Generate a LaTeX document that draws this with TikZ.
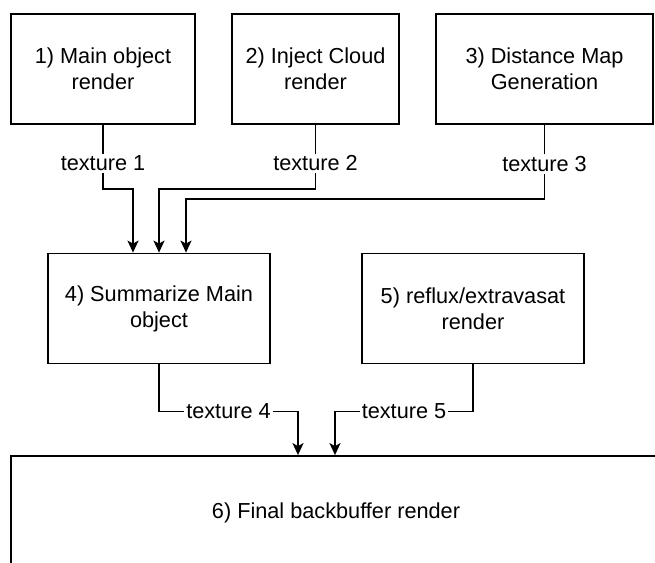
\documentclass[tikz,border=0pt]{standalone}
\usepackage{fontspec}
\setmainfont{Liberation Sans}
\usepackage{tikz}
\usetikzlibrary{arrows.meta,calc}
\tikzstyle{stage} = [rectangle, draw=black, line width=0.9pt, align=center, minimum height=55pt, font=\fontsize{10.85}{13}\selectfont]
\tikzstyle{tex} = [fill=white, inner sep=1pt, font=\fontsize{10.85}{13}\selectfont]
\tikzstyle{flow} = [draw=black, line width=0.9pt, -{Stealth[length=6pt,width=5.5pt,inset=1.5pt]}]

\begin{document}
\begin{tikzpicture}[x=0.5pt,y=-0.5pt]

  \clip (0,0) rectangle (655,563);

  % render passes
  \node[stage, minimum width=92pt]  (main)    at (103,69)    {1) Main object\\render};
  \node[stage, minimum width=83.5pt] (cloud)  at (315.5,69)  {2) Inject Cloud\\render};
  \node[stage, minimum width=108.5pt] (dist)  at (544.5,69)  {3) Distance Map\\Generation};
  \node[stage, minimum width=111pt] (summ)    at (159,308.5) {4) Summarize Main\\object};
  \node[stage, minimum width=111pt] (reflux)  at (473,308.5) {5) reflux/extravasat\\render};
  \node[stage, minimum width=325pt, minimum height=57pt] (final) at (336,513) {6) Final backbuffer render};

  % textures
  \path[flow] (main.south) -- node[tex, pos=0.6] {texture 1} ++(0,64) -| ($(summ.north)+(-26,0)$);
  \path[flow] (cloud.south) -- node[tex, pos=0.6] {texture 2} ++(0,64) -| (summ.north);
  \path[flow] (dist.south) -- node[tex, pos=0.53] {texture 3} ++(0,74) -| ($(summ.north)+(27,0)$);

  \path[flow] (summ.south) -- ++(0,47) -| node[tex, pos=0.25] {texture 4} ($(final.north)+(-38,0)$);
  \path[flow] (reflux.south) -- ++(0,47) -| node[tex, pos=0.25] {texture 5} ($(final.north)+(-1,0)$);
\end{tikzpicture}
\end{document}
